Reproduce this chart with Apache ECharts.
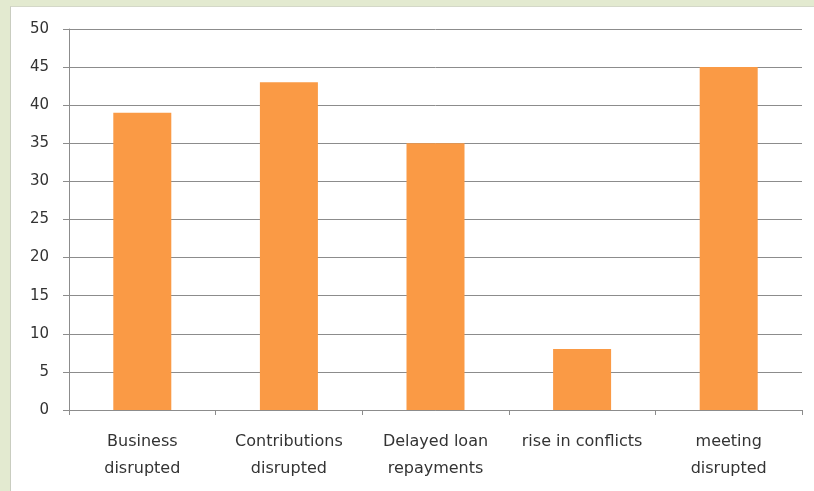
<!DOCTYPE html>
<html>
<head>
<meta charset="utf-8">
<script src="https://cdn.jsdelivr.net/npm/echarts@6/dist/echarts.min.js"></script>
<style>
  html, body { margin: 0; padding: 0; width: 814px; height: 491px; background: #e3ead0; overflow: hidden; }
  #frame { position: absolute; left: 10px; top: 6px; width: 804px; height: 485px; background: #ffffff; border-left: 1px solid #c9cdc0; border-top: 1px solid #d4d8c8; box-sizing: border-box; }
  #chart { width: 100%; height: 100%; }
</style>
</head>
<body>
<div id="frame"><div id="chart"></div></div>
<script>
// Categories and values for the bar chart
const categories = [
  'Business\ndisrupted',
  'Contributions\ndisrupted',
  'Delayed loan\nrepayments',
  'rise in conflicts',
  'meeting\ndisrupted'
];
const values = [39, 43, 35, 8, 45];
const yTicks = { min: 0, max: 50, interval: 5 };

const labelFont = 'DejaVu Sans, Liberation Sans, sans-serif';

const chart = echarts.init(document.getElementById('chart'));
chart.setOption({
  animation: false,
  grid: { left: 58, right: 12, top: 22, bottom: 81 },
  xAxis: {
    type: 'category',
    data: categories,
    axisLine: { show: true, lineStyle: { color: '#8c8c8c', width: 1 } },
    axisTick: { show: true, length: 5, lineStyle: { color: '#8c8c8c' } },
    axisLabel: {
      color: '#333333',
      fontFamily: labelFont,
      fontSize: 16,
      lineHeight: 27,
      margin: 18,
      interval: 0
    }
  },
  yAxis: {
    type: 'value',
    min: yTicks.min,
    max: yTicks.max,
    interval: yTicks.interval,
    axisLine: { show: true, lineStyle: { color: '#8c8c8c', width: 1 } },
    axisTick: { show: true, length: 6, lineStyle: { color: '#8c8c8c' } },
    axisLabel: {
      color: '#333333',
      fontFamily: labelFont,
      fontSize: 15,
      margin: 20
    },
    splitLine: { show: true, lineStyle: { color: '#8c8c8c', width: 1 } }
  },
  series: [{
    type: 'bar',
    data: values,
    barWidth: 58,
    itemStyle: { color: '#fa9a45' }
  }]
});
</script>
</body>
</html>
